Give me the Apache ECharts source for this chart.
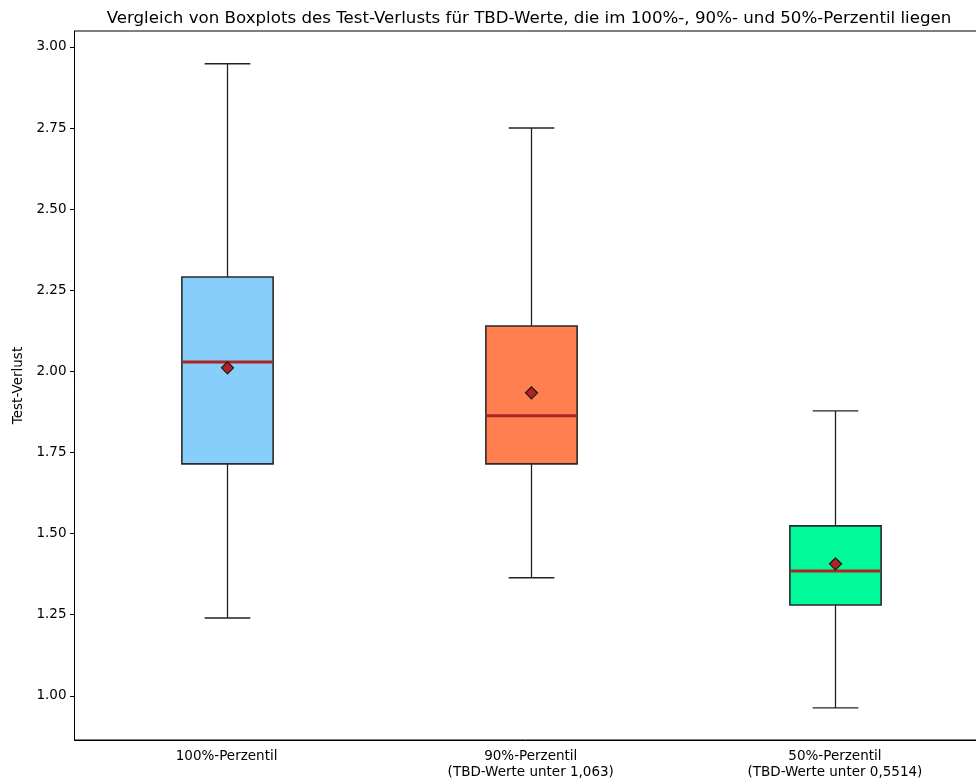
<!DOCTYPE html>
<html>
<head>
<meta charset="utf-8">
<title>Boxplots Test-Verlust</title>
<script src="https://cdn.jsdelivr.net/npm/echarts@6/dist/echarts.min.js"></script>
<style>
  html, body { margin: 0; padding: 0; background: #fff; }
  #chart { width: 976px; height: 780px; }
</style>
</head>
<body>
<div id="chart"></div>
<script>
// Gruppen (x-Achse)
const categories = [
  '100%-Perzentil',
  '90%-Perzentil\n(TBD-Werte unter 1,063)',
  '50%-Perzentil\n(TBD-Werte unter 0,5514)'
];
// Boxplot-Kennzahlen je Gruppe
const whiskerLow  = [1.240, 1.364, 0.963];
const quartile1   = [1.715, 1.715, 1.280];
const medians     = [2.029, 1.863, 1.385];
const quartile3   = [2.291, 2.140, 1.524];
const whiskerHigh = [2.948, 2.750, 1.878];
const means       = [2.011, 1.934, 1.407];
// Beschriftung der y-Achse
const yTicks = [1.00, 1.25, 1.50, 1.75, 2.00, 2.25, 2.50, 2.75, 3.00];

const boxColors = ['#87CEFA', '#FF7F50', '#00FA9A'];

const rows = categories.map((c, i) => [
  i, whiskerLow[i], quartile1[i], medians[i], quartile3[i], whiskerHigh[i], means[i]
]);

function renderBox(params, api) {
  const i = api.value(0);
  const band = api.size([1, 0])[0];
  const cx = Math.round(api.coord([i, 0])[0]) + 0.5;
  const boxW = band * 0.3;
  const capW = boxW * 0.5;
  const y = k => api.coord([i, api.value(k)])[1];
  const yLo = y(1), yQ1 = y(2), yMed = y(3), yQ3 = y(4), yHi = y(5), yMean = y(6);
  const lineStyle = { stroke: '#222222', lineWidth: 1.3, fill: null };
  const d = 6;
  return {
    type: 'group',
    children: [
      { type: 'line', shape: { x1: cx, y1: yQ3, x2: cx, y2: yHi }, style: lineStyle },
      { type: 'line', shape: { x1: cx, y1: yQ1, x2: cx, y2: yLo }, style: lineStyle },
      { type: 'line', shape: { x1: cx - capW / 2, y1: yHi, x2: cx + capW / 2, y2: yHi }, style: lineStyle },
      { type: 'line', shape: { x1: cx - capW / 2, y1: yLo, x2: cx + capW / 2, y2: yLo }, style: lineStyle },
      {
        type: 'rect',
        shape: { x: cx - boxW / 2, y: yQ3, width: boxW, height: yQ1 - yQ3 },
        style: { fill: boxColors[i], stroke: '#2a2a2a', lineWidth: 1.6 }
      },
      {
        type: 'line',
        shape: { x1: cx - boxW / 2 + 0.8, y1: yMed, x2: cx + boxW / 2 - 0.8, y2: yMed },
        style: { stroke: '#B22222', lineWidth: 3 }
      },
      {
        type: 'polygon',
        shape: { points: [[cx, yMean - d], [cx + d, yMean], [cx, yMean + d], [cx - d, yMean]] },
        style: { fill: '#B22222', stroke: '#1a1a1a', lineWidth: 1.2 }
      }
    ]
  };
}

const chart = echarts.init(document.getElementById('chart'), null, { renderer: 'canvas' });
chart.setOption({
  animation: false,
  backgroundColor: '#ffffff',
  textStyle: { fontFamily: 'DejaVu Sans' },
  title: {
    text: 'Vergleich von Boxplots des Test-Verlusts für TBD-Werte, die im 100%-, 90%- und 50%-Perzentil liegen',
    left: 524,
    textAlign: 'center',
    top: 5,
    textStyle: { fontFamily: 'DejaVu Sans', fontSize: 16.67, fontWeight: 'normal', color: '#000' }
  },
  grid: {
    left: 74.5, right: -11, top: 31, bottom: 40,
    outerBoundsMode: 'none',
    containLabel: false,
    show: true, borderColor: '#000', borderWidth: 1, backgroundColor: 'transparent'
  },
  xAxis: {
    type: 'category',
    data: categories,
    boundaryGap: true,
    axisLine: { lineStyle: { color: '#000', width: 1 } },
    axisTick: { alignWithLabel: true, length: 4.5, lineStyle: { color: '#000' } },
    axisLabel: { color: '#000', fontSize: 13.5, lineHeight: 16, margin: 8, fontFamily: 'DejaVu Sans' },
    splitLine: { show: false }
  },
  yAxis: {
    type: 'value',
    min: 0.864,
    max: 3.049,
    name: 'Test-Verlust',
    nameLocation: 'middle',
    nameGap: 45,
    nameTextStyle: { color: '#000', fontSize: 13.5, fontFamily: 'DejaVu Sans' },
    axisLine: { show: true, lineStyle: { color: '#000', width: 1 } },
    axisTick: { show: true, length: 4.5, customValues: yTicks, lineStyle: { color: '#000' } },
    axisLabel: {
      color: '#000', fontSize: 13.5, margin: 8, fontFamily: 'DejaVu Sans',
      customValues: yTicks,
      formatter: v => v.toFixed(2)
    },
    splitLine: { show: false }
  },
  series: [{
    type: 'custom',
    renderItem: renderBox,
    encode: { x: 0, y: [1, 2, 3, 4, 5, 6] },
    data: rows,
    clip: false
  }]
});
</script>
</body>
</html>
